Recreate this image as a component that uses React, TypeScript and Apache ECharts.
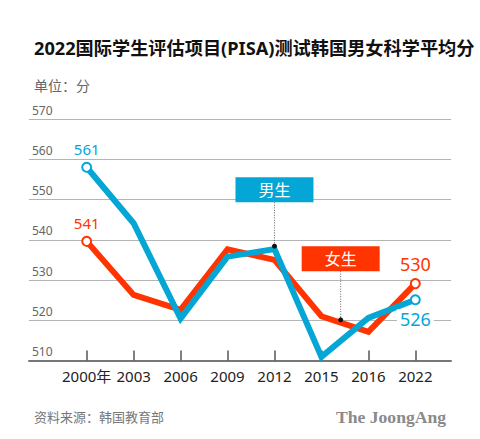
import React, { useEffect, useRef } from "react";
import * as echarts from "echarts";

const years = ["2000年", "2003", "2006", "2009", "2012", "2015", "2016", "2022"];
const boys = [558, 544.1, 520.4, 535.8, 537.7, 510.9, 520.6, 525.1];
const girls = [539.6, 526.3, 522.6, 537.6, 535, 521, 517.1, 529.1];
const boysLabels: Record<number, string> = { 0: "561", 7: "526" };
const girlsLabels: Record<number, string> = { 0: "541", 7: "530" };
const yMin = 510;
const yMax = 570;
const yStep = 10;

// callouts: category index (fractional allowed), value of dot, value of box bottom
const boysCallout = { text: "男生", cat: 4, value: 538.4, boxValue: 549.3 };
const girlsCallout = { text: "女生", cat: 5.41, value: 520.1, boxValue: 532.2 };

const BLUE = "#04a6d6";
const RED = "#ff3400";
const FONT = "'Noto Sans', 'Noto Sans CJK SC', sans-serif";

function makeData(values: number[], labels: Record<number, string>, color: string, sizes: Record<number, number>, positions: Record<number, string>) {
  return values.map((v, i) => {
    if (labels[i] === undefined) return { value: v, symbol: "none" };
    const isBottom = positions[i] === "bottom";
    return {
      value: v,
      symbol: "circle",
      symbolSize: 9,
      label: {
        show: true,
        position: positions[i],
        distance: isBottom ? 4 : 5,
        formatter: labels[i],
        color,
        fontSize: sizes[i],
        fontFamily: FONT,
        backgroundColor: isBottom ? "#fff" : "transparent",
        padding: isBottom ? [1, 3, 1, 3] : 0,
      },
    };
  });
}

export default function App() {
  const ref = useRef<HTMLDivElement>(null);
  useEffect(() => {
    if (!ref.current) return;
    const chart = echarts.init(ref.current, null, { renderer: "svg" });
    const top = 119;
    const bottom = 78.5;
    chart.setOption({
      animation: false,
      backgroundColor: "#fff",
      textStyle: { fontFamily: FONT },
      title: [
        {
          text: "2022国际学生评估项目(PISA)测试韩国男女科学平均分",
          left: 29,
          top: 31,
          textStyle: { fontSize: 18.2, fontWeight: "bold", color: "#111", fontFamily: FONT, lineHeight: 24 },
        },
        {
          text: "单位：分",
          left: 29,
          top: 71,
          textStyle: { fontSize: 14, fontWeight: "normal", color: "#666", fontFamily: FONT, lineHeight: 18 },
        },
        {
          text: "资料来源：韩国教育部",
          left: 29,
          top: 403,
          textStyle: { fontSize: 13, fontWeight: "normal", color: "#777", fontFamily: FONT, lineHeight: 18 },
        },
        {
          text: "The JoongAng",
          right: 29,
          top: 402,
          textStyle: { fontSize: 17.6, fontWeight: "bold", color: "#8a8a8a", fontFamily: "'Liberation Serif', 'DejaVu Serif', serif", lineHeight: 20 },
        },
      ],
      grid: [
        { left: 29, right: 29, top, bottom },
        { left: 63.2, right: 41.2, top, bottom },
      ],
      xAxis: [
        {
          gridIndex: 0,
          type: "value",
          min: 0,
          max: 1,
          z: 3,
          axisLine: { show: true, lineStyle: { color: "#777", width: 2 } },
          axisTick: { show: false },
          axisLabel: { show: false },
          splitLine: { show: false },
        },
        {
          gridIndex: 1,
          type: "category",
          data: years,
          boundaryGap: true,
          z: 3,
          axisLine: { show: false },
          axisTick: { show: true, inside: true, alignWithLabel: true, interval: 0, length: 10, lineStyle: { color: "#555", width: 1.5 } },
          axisLabel: { interval: 0, margin: 8, fontSize: 15, color: "#222", fontFamily: FONT },
          splitLine: { show: false },
        },
      ],
      yAxis: [
        {
          gridIndex: 0,
          type: "value",
          min: yMin,
          max: yMax,
          interval: yStep,
          axisLine: { show: false },
          axisTick: { show: false },
          axisLabel: {
            inside: true,
            margin: 3,
            fontSize: 12,
            color: "#666",
            verticalAlign: "bottom",
            padding: [0, 0, 3, 0],
            fontFamily: FONT,
          },
          splitLine: { show: true, lineStyle: { color: "#b4b4b4", width: 1.2 } },
        },
        {
          gridIndex: 1,
          type: "value",
          min: yMin,
          max: yMax,
          interval: yStep,
          axisLine: { show: false },
          axisTick: { show: false },
          axisLabel: { show: false },
          splitLine: { show: false },
        },
      ],
      series: [
        {
          type: "line",
          name: "女生",
          xAxisIndex: 1,
          yAxisIndex: 1,
          symbol: "none",
          data: makeData(girls, girlsLabels, RED, { 0: 15, 7: 18 }, { 0: "top", 7: "top" }),
          lineStyle: { color: RED, width: 6, join: "miter" },
          itemStyle: { color: "#fff", borderColor: RED, borderWidth: 2 },
          z: 3,
        },
        {
          type: "line",
          name: "男生",
          xAxisIndex: 1,
          yAxisIndex: 1,
          symbol: "none",
          data: makeData(boys, boysLabels, BLUE, { 0: 15, 7: 18 }, { 0: "top", 7: "bottom" }),
          lineStyle: { color: BLUE, width: 6, join: "miter" },
          itemStyle: { color: "#fff", borderColor: BLUE, borderWidth: 2 },
          z: 4,
        },
      ],
    });

    const toPx = (cat: number, v: number) => {
      const i0 = Math.floor(cat);
      const f = cat - i0;
      const a = chart.convertToPixel({ xAxisIndex: 1, yAxisIndex: 1 }, [i0, v]) as number[];
      if (f === 0) return a;
      const b = chart.convertToPixel({ xAxisIndex: 1, yAxisIndex: 1 }, [i0 + 1, v]) as number[];
      return [a[0] + (b[0] - a[0]) * f, a[1]];
    };
    const callout = (c: typeof boysCallout, color: string) => {
      const dot = toPx(c.cat, c.value);
      const box = toPx(c.cat, c.boxValue);
      const w = 78;
      const h = 25;
      return [
        {
          type: "line",
          z: 10,
          shape: { x1: dot[0], y1: box[1], x2: dot[0], y2: dot[1] },
          style: { stroke: "#666", lineWidth: 1, lineDash: [1, 1.5] },
        },
        { type: "circle", z: 11, shape: { cx: dot[0], cy: dot[1], r: 2.5 }, style: { fill: "#111" } },
        {
          type: "rect",
          z: 10,
          shape: { x: dot[0] - w / 2, y: box[1] - h, width: w, height: h },
          style: { fill: color },
        },
        {
          type: "text",
          z: 11,
          style: {
            text: c.text,
            x: dot[0],
            y: box[1] - h / 2,
            align: "center",
            verticalAlign: "middle",
            fill: "#fff",
            fontSize: 16,
            fontFamily: FONT,
          },
        },
      ];
    };
    chart.setOption({
      graphic: [...callout(boysCallout, BLUE), ...callout(girlsCallout, RED)],
    });

    return () => chart.dispose();
  }, []);
  return <div ref={ref} style={{ position: "fixed", left: 0, top: 0, width: 480, height: 439 }} />;
}
